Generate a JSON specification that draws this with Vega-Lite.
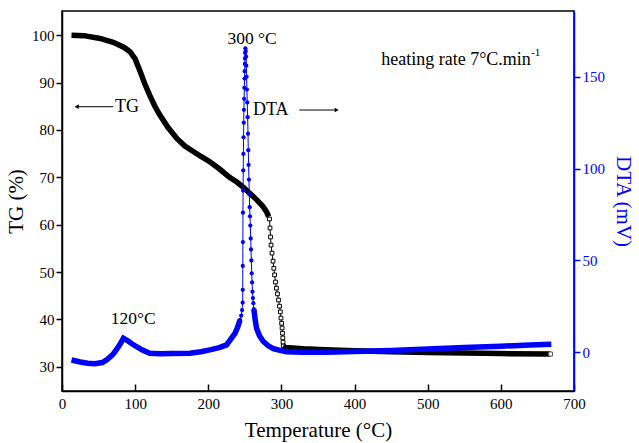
{
  "$schema": "https://vega.github.io/schema/vega-lite/v6.json",
  "width": 512,
  "height": 380,
  "autosize": "none",
  "padding": {"left": 62, "top": 11, "right": 65, "bottom": 52},
  "background": "white",
  "config": {
    "view": {"stroke": "black", "strokeWidth": 1.5},
    "font": "Liberation Serif",
    "axis": {"labelFont": "Liberation Serif", "titleFont": "Liberation Serif", "labelFontSize": 15, "titleFontSize": 21, "titleFontWeight": "normal", "grid": false, "domainWidth": 1.5, "tickWidth": 1.5, "labelColor": "black", "titleColor": "black", "domainColor": "black", "tickColor": "black"}
  },
  "datasets": {
    "tg": [
      {"T": 13, "TG": 100}, {"T": 30, "TG": 99.9}, {"T": 52, "TG": 99.3}, {"T": 70, "TG": 98.5},
      {"T": 85, "TG": 97.4}, {"T": 93, "TG": 96.5}, {"T": 100, "TG": 95.0}, {"T": 107, "TG": 92.3},
      {"T": 113, "TG": 89.8}, {"T": 120, "TG": 87.3}, {"T": 127, "TG": 85.0}, {"T": 134, "TG": 83.1},
      {"T": 145, "TG": 80.5}, {"T": 157, "TG": 78.2}, {"T": 168, "TG": 76.6}, {"T": 180, "TG": 75.4},
      {"T": 190, "TG": 74.4}, {"T": 202, "TG": 73.3}, {"T": 215, "TG": 71.8}, {"T": 229, "TG": 70.0},
      {"T": 239, "TG": 69.0}, {"T": 248, "TG": 67.9}, {"T": 257, "TG": 66.6}, {"T": 266, "TG": 65.3},
      {"T": 275, "TG": 63.8}, {"T": 280, "TG": 62.6}, {"T": 282.5, "TG": 61.7},
      {"T": 283.7, "TG": 61.2}, {"T": 284.4, "TG": 59.3}, {"T": 285.1, "TG": 57.4}, {"T": 285.8, "TG": 55.7},
      {"T": 287.1, "TG": 54.0}, {"T": 288.5, "TG": 52.3}, {"T": 289.6, "TG": 50.8}, {"T": 290.6, "TG": 49.4},
      {"T": 291.9, "TG": 47.9}, {"T": 293.2, "TG": 46.6}, {"T": 294.6, "TG": 45.4}, {"T": 296.0, "TG": 44.1},
      {"T": 297.4, "TG": 42.8}, {"T": 298.5, "TG": 41.6}, {"T": 299.4, "TG": 40.3}, {"T": 300.3, "TG": 39.2},
      {"T": 300.9, "TG": 38.2}, {"T": 301.5, "TG": 37.1}, {"T": 301.9, "TG": 36.1}, {"T": 302.2, "TG": 35.2},
      {"T": 302.5, "TG": 34.4}, {"T": 305, "TG": 34.1}, {"T": 330, "TG": 33.8}, {"T": 360, "TG": 33.6},
      {"T": 400, "TG": 33.4}, {"T": 450, "TG": 33.2}, {"T": 500, "TG": 33.0}, {"T": 550, "TG": 32.9},
      {"T": 600, "TG": 32.8}, {"T": 668, "TG": 32.7}
    ],
    "dta": [
      {"T": 13, "DTA": -4.2}, {"T": 25, "DTA": -5.3}, {"T": 35, "DTA": -6.0}, {"T": 45, "DTA": -6.3},
      {"T": 55, "DTA": -5.6}, {"T": 61, "DTA": -4.2}, {"T": 70, "DTA": -1.0}, {"T": 78, "DTA": 3.5},
      {"T": 84, "DTA": 7.6}, {"T": 90, "DTA": 6.2}, {"T": 96, "DTA": 4.5}, {"T": 102, "DTA": 3.0},
      {"T": 110, "DTA": 1.2}, {"T": 120, "DTA": -0.5}, {"T": 135, "DTA": -0.8}, {"T": 150, "DTA": -0.7},
      {"T": 175, "DTA": -0.5}, {"T": 190, "DTA": 0.3}, {"T": 202, "DTA": 1.3}, {"T": 215, "DTA": 2.5},
      {"T": 225, "DTA": 4.0}, {"T": 230, "DTA": 6.7}, {"T": 236.5, "DTA": 10.3}, {"T": 240, "DTA": 13.5},
      {"T": 243.4, "DTA": 17.6}, {"T": 245, "DTA": 20}, {"T": 246.2, "DTA": 23}, {"T": 247.0, "DTA": 27},
      {"T": 247.1, "DTA": 34}, {"T": 247.2, "DTA": 47}, {"T": 247.3, "DTA": 60}, {"T": 247.4, "DTA": 76},
      {"T": 247.6, "DTA": 88}, {"T": 247.8, "DTA": 99}, {"T": 248.0, "DTA": 108}, {"T": 248.2, "DTA": 117},
      {"T": 248.5, "DTA": 125}, {"T": 248.7, "DTA": 132}, {"T": 249.0, "DTA": 138}, {"T": 249.3, "DTA": 144},
      {"T": 249.6, "DTA": 149}, {"T": 249.8, "DTA": 153}, {"T": 250.0, "DTA": 157}, {"T": 250.2, "DTA": 160},
      {"T": 250.4, "DTA": 163}, {"T": 250.7, "DTA": 165.5}, {"T": 251.2, "DTA": 164}, {"T": 251.6, "DTA": 161},
      {"T": 252.0, "DTA": 156}, {"T": 252.4, "DTA": 150}, {"T": 252.8, "DTA": 143}, {"T": 253.3, "DTA": 136},
      {"T": 253.8, "DTA": 128}, {"T": 254.3, "DTA": 119}, {"T": 254.7, "DTA": 110}, {"T": 255.1, "DTA": 102},
      {"T": 255.6, "DTA": 94}, {"T": 256.1, "DTA": 86}, {"T": 256.6, "DTA": 79}, {"T": 257.0, "DTA": 74},
      {"T": 257.5, "DTA": 69}, {"T": 258.0, "DTA": 62}, {"T": 258.4, "DTA": 56}, {"T": 258.9, "DTA": 50},
      {"T": 259.4, "DTA": 43}, {"T": 259.9, "DTA": 38}, {"T": 260.4, "DTA": 33}, {"T": 261.0, "DTA": 29.5},
      {"T": 261.6, "DTA": 26.7}, {"T": 262.3, "DTA": 23.5}, {"T": 264, "DTA": 18}, {"T": 266, "DTA": 13},
      {"T": 270, "DTA": 9}, {"T": 275, "DTA": 6}, {"T": 282, "DTA": 3.5}, {"T": 289, "DTA": 2},
      {"T": 298, "DTA": 1}, {"T": 307, "DTA": 0.3}, {"T": 330, "DTA": 0}, {"T": 360, "DTA": 0},
      {"T": 400, "DTA": 0.4}, {"T": 450, "DTA": 1.0}, {"T": 500, "DTA": 1.8}, {"T": 550, "DTA": 2.6},
      {"T": 600, "DTA": 3.3}, {"T": 640, "DTA": 3.9}, {"T": 669, "DTA": 4.3}
    ],
    "centerNotes": [
      {"T": 259.8, "TG": 99.2, "label": "300 °C"},
      {"T": 97.5, "TG": 40.2, "label": "120°C"}
    ],
    "leftNotes": [
      {"T": 72.5, "TG": 84.9, "label": "TG"},
      {"T": 261.1, "TG": 84.2, "label": "DTA"}
    ],
    "rightNotes": [
      {"T": 641, "TG": 94.7, "label": "heating rate 7°C.min"}
    ],
    "supNotes": [
      {"T": 641.5, "TG": 94.7, "label": "-1"}
    ],
    "arrows": [
      {"T": 20.1, "T2": 70.1, "TG": 84.9, "dir": "left"},
      {"T": 324.5, "T2": 375.6, "TG": 84.2, "dir": "right"}
    ]
  },
  "layer": [
    {
      "layer": [
        {
          "data": {"name": "tg"},
          "transform": [{"filter": "datum.T <= 282.5"}],
          "mark": {"type": "line", "color": "black", "strokeWidth": 5.5},
          "encoding": {
            "x": {"field": "T", "type": "quantitative", "scale": {"domain": [0, 700], "nice": false},
              "axis": {"title": "Temperature (°C)", "values": [0, 100, 200, 300, 400, 500, 600, 700], "tickSize": -7, "labelPadding": 12, "titlePadding": 8, "labelFlush": false}},
            "y": {"field": "TG", "type": "quantitative", "scale": {"domain": [24.9, 105.1], "nice": false, "zero": false},
              "axis": {"title": "TG (%)", "orient": "left", "values": [30, 40, 50, 60, 70, 80, 90, 100], "tickSize": 6, "labelPadding": 2, "titlePadding": 5}}
          }
        },
        {
          "data": {"name": "tg"},
          "transform": [{"filter": "datum.T >= 282.5 && datum.T <= 305"}],
          "mark": {"type": "line", "color": "black", "strokeWidth": 1},
          "encoding": {
            "x": {"field": "T", "type": "quantitative"},
            "y": {"field": "TG", "type": "quantitative"}
          }
        },
        {
          "data": {"name": "tg"},
          "transform": [{"filter": "datum.T > 282.5 && datum.T < 302.6"}],
          "mark": {"type": "point", "shape": "square", "size": 14, "filled": false, "fill": "white", "stroke": "black", "strokeWidth": 1, "opacity": 1},
          "encoding": {
            "x": {"field": "T", "type": "quantitative"},
            "y": {"field": "TG", "type": "quantitative"}
          }
        },
        {
          "data": {"name": "tg"},
          "transform": [{"filter": "datum.T >= 302.5"}],
          "mark": {"type": "line", "color": "black", "strokeWidth": 5.5},
          "encoding": {
            "x": {"field": "T", "type": "quantitative"},
            "y": {"field": "TG", "type": "quantitative"}
          }
        },
        {
          "data": {"name": "tg"},
          "transform": [{"filter": "datum.T >= 668"}],
          "mark": {"type": "point", "shape": "square", "size": 16, "filled": false, "fill": "white", "stroke": "#555", "strokeWidth": 1, "opacity": 1},
          "encoding": {
            "x": {"field": "T", "type": "quantitative"},
            "y": {"field": "TG", "type": "quantitative"}
          }
        },
        {
          "data": {"name": "centerNotes"},
          "mark": {"type": "text", "font": "Liberation Serif", "fontSize": 17.5, "align": "center", "baseline": "middle", "color": "black"},
          "encoding": {
            "x": {"field": "T", "type": "quantitative"},
            "y": {"field": "TG", "type": "quantitative"},
            "text": {"field": "label"}
          }
        },
        {
          "data": {"name": "leftNotes"},
          "mark": {"type": "text", "font": "Liberation Serif", "fontSize": 18, "align": "left", "baseline": "middle", "color": "black"},
          "encoding": {
            "x": {"field": "T", "type": "quantitative"},
            "y": {"field": "TG", "type": "quantitative"},
            "text": {"field": "label"}
          }
        },
        {
          "data": {"name": "rightNotes"},
          "mark": {"type": "text", "font": "Liberation Serif", "fontSize": 18, "align": "right", "baseline": "middle", "color": "black"},
          "encoding": {
            "x": {"field": "T", "type": "quantitative"},
            "y": {"field": "TG", "type": "quantitative"},
            "text": {"field": "label"}
          }
        },
        {
          "data": {"name": "supNotes"},
          "mark": {"type": "text", "font": "Liberation Serif", "fontSize": 11, "align": "left", "baseline": "middle", "dy": -7, "color": "black"},
          "encoding": {
            "x": {"field": "T", "type": "quantitative"},
            "y": {"field": "TG", "type": "quantitative"},
            "text": {"field": "label"}
          }
        },
        {
          "data": {"name": "arrows"},
          "mark": {"type": "rule", "color": "black", "strokeWidth": 1},
          "encoding": {
            "x": {"field": "T", "type": "quantitative"},
            "x2": {"field": "T2"},
            "y": {"field": "TG", "type": "quantitative"}
          }
        },
        {
          "data": {"name": "arrows"},
          "transform": [{"filter": "datum.dir == 'left'"}],
          "mark": {"type": "point", "shape": "triangle-left", "size": 22, "filled": true, "color": "black", "opacity": 1},
          "encoding": {
            "x": {"field": "T", "type": "quantitative"},
            "y": {"field": "TG", "type": "quantitative"}
          }
        },
        {
          "data": {"name": "arrows"},
          "transform": [{"filter": "datum.dir == 'right'"}],
          "mark": {"type": "point", "shape": "triangle-right", "size": 22, "filled": true, "color": "black", "opacity": 1},
          "encoding": {
            "x": {"field": "T2", "type": "quantitative"},
            "y": {"field": "TG", "type": "quantitative"}
          }
        }
      ]
    },
    {
      "layer": [
        {
          "data": {"name": "dta"},
          "transform": [{"filter": "datum.T <= 243.5"}],
          "mark": {"type": "line", "color": "#0000ff", "strokeWidth": 5.5},
          "encoding": {
            "x": {"field": "T", "type": "quantitative"},
            "y": {"field": "DTA", "type": "quantitative", "scale": {"domain": [-21.1, 185.8], "nice": false, "zero": false},
              "axis": {"title": "DTA (mV)", "orient": "right", "values": [0, 50, 100, 150], "tickSize": 6, "labelPadding": 2, "titlePadding": 8,
                "domainColor": "#0000ff", "tickColor": "#0000ff", "labelColor": "#0000ff", "titleColor": "#0000ff"}}
          }
        },
        {
          "data": {"name": "dta"},
          "transform": [{"filter": "datum.T >= 243.4 && datum.T <= 262.3"}],
          "mark": {"type": "line", "color": "#0000ff", "strokeWidth": 1},
          "encoding": {
            "x": {"field": "T", "type": "quantitative"},
            "y": {"field": "DTA", "type": "quantitative"}
          }
        },
        {
          "data": {"name": "dta"},
          "transform": [{"filter": "datum.T >= 243.4 && datum.T <= 262.3"}],
          "mark": {"type": "point", "shape": "circle", "size": 18, "filled": true, "color": "#0000ff", "opacity": 1},
          "encoding": {
            "x": {"field": "T", "type": "quantitative"},
            "y": {"field": "DTA", "type": "quantitative"}
          }
        },
        {
          "data": {"name": "dta"},
          "transform": [{"filter": "datum.T >= 262.3"}],
          "mark": {"type": "line", "color": "#0000ff", "strokeWidth": 5.5},
          "encoding": {
            "x": {"field": "T", "type": "quantitative"},
            "y": {"field": "DTA", "type": "quantitative"}
          }
        }
      ]
    }
  ],
  "resolve": {"scale": {"y": "independent"}}
}
